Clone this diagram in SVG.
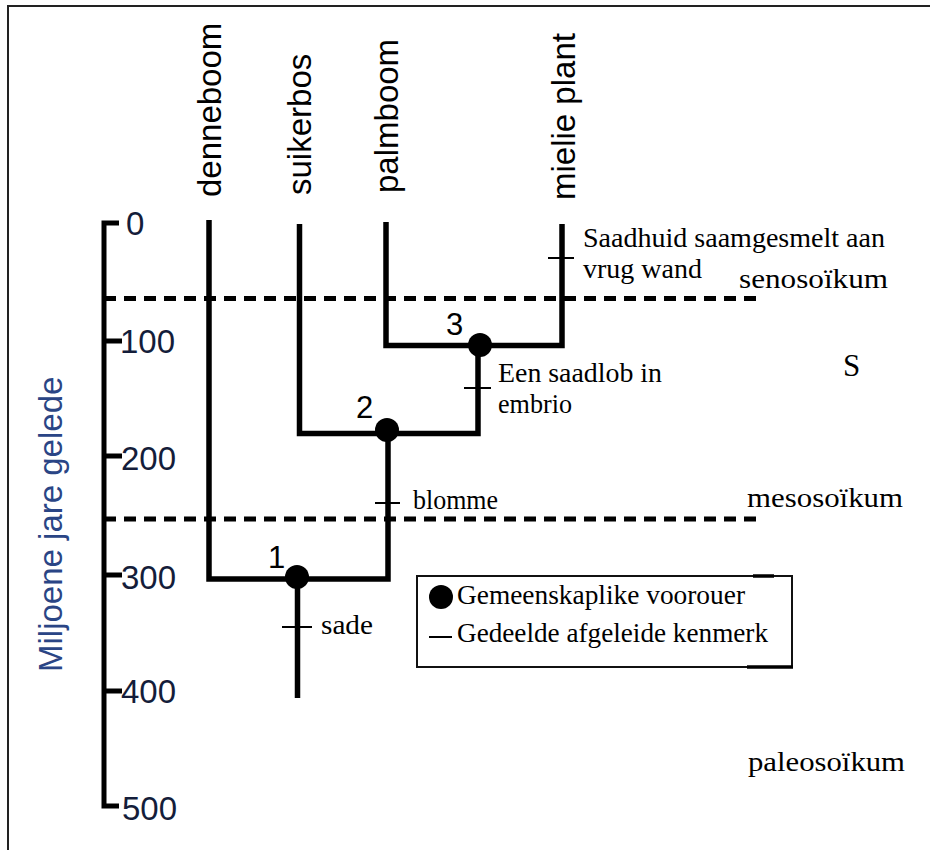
<svg xmlns="http://www.w3.org/2000/svg" width="930" height="850" viewBox="0 0 930 850">
<style>
.frame{fill:none;stroke:#222;stroke-width:2}
.branch{fill:none;stroke:#000;stroke-width:5.5;stroke-linejoin:miter;stroke-linecap:butt}
.axis{fill:none;stroke:#000;stroke-width:5}
.tick{stroke:#000;stroke-width:2}
.era{fill:none;stroke:#000;stroke-width:5;stroke-dasharray:12 8}
.sans{font-family:"Liberation Sans",Arial,sans-serif;font-size:33px;fill:#000}
.num{font-family:"Liberation Sans",Arial,sans-serif;font-size:33px;fill:#141d3a}
.ylab{font-family:"Liberation Sans",Arial,sans-serif;font-size:33px;fill:#2a4585}
.node-num{font-family:"Liberation Sans",Arial,sans-serif;font-size:31px;fill:#000}
.serif{font-family:"Liberation Serif","Times New Roman",serif;font-size:28px;fill:#000}
.dot{fill:#000}
</style>
<rect width="930" height="850" fill="#fff"/>
<path class="frame" d="M8 850 V6 H930"/>

<g id="axis">
<path class="axis" d="M119 223 H104 V806 H119"/>
<path class="axis" d="M104 341 H122 M104 456 H122 M104 575 H122 M104 691 H122"/>
<text class="num" x="126" y="235">0</text>
<text class="num" x="120" y="353">100</text>
<text class="num" x="121" y="470">200</text>
<text class="num" x="121" y="589">300</text>
<text class="num" x="121" y="703">400</text>
<text class="num" x="122" y="820">500</text>
<text class="ylab" transform="translate(62,672) rotate(-90)">Miljoene jare gelede</text>
</g>

<g id="eras">
<line class="era" x1="104" y1="298.5" x2="758" y2="298.5"/>
<line class="era" x1="104" y1="519" x2="758" y2="519"/>
<text class="serif" x="739" y="288" textLength="149" lengthAdjust="spacingAndGlyphs">senosoïkum</text>
<text class="serif" x="843" y="376" style="font-size:31px">S</text>
<text class="serif" x="747" y="507" textLength="156" lengthAdjust="spacingAndGlyphs">mesosoïkum</text>
<text class="serif" x="748" y="771" textLength="157" lengthAdjust="spacingAndGlyphs">paleosoïkum</text>
</g>

<g id="connectors">
<path class="branch" d="M209 220 V579 H388 V430"/>
<path class="branch" d="M299.5 224 V433.5 H478 V345"/>
<path class="branch" d="M386 222 V345.5 H562 V224"/>
<path class="branch" d="M297.5 577 V698"/>
</g>

<g id="tip-denneboom"><text class="sans" transform="translate(221,197) rotate(-90)">denneboom</text></g>
<g id="tip-suikerbos"><text class="sans" transform="translate(311,195) rotate(-90)">suikerbos</text></g>
<g id="tip-palmboom"><text class="sans" transform="translate(398,193) rotate(-90)">palmboom</text></g>
<g id="tip-mielie"><text class="sans" transform="translate(575,200) rotate(-90)">mielie plant</text></g>

<g id="node1">
<circle class="dot" cx="297" cy="577" r="12"/>
<text class="node-num" x="268" y="568">1</text>
</g>
<g id="node2">
<circle class="dot" cx="387" cy="430" r="12"/>
<text class="node-num" x="356" y="418">2</text>
</g>
<g id="node3">
<circle class="dot" cx="480" cy="345" r="12"/>
<text class="node-num" x="446" y="335">3</text>
</g>

<g id="trait-saadhuid">
<line class="tick" x1="548" y1="258" x2="574" y2="258"/>
<text class="serif" x="583" y="247" textLength="302" lengthAdjust="spacingAndGlyphs">Saadhuid saamgesmelt aan</text>
<text class="serif" x="583" y="278" textLength="119" lengthAdjust="spacingAndGlyphs">vrug wand</text>
</g>
<g id="trait-saadlob">
<line class="tick" x1="464" y1="388" x2="491" y2="388"/>
<text class="serif" x="498" y="382" textLength="164" lengthAdjust="spacingAndGlyphs">Een saadlob in</text>
<text class="serif" x="498" y="413" textLength="74" lengthAdjust="spacingAndGlyphs">embrio</text>
</g>
<g id="trait-blomme">
<line class="tick" x1="375" y1="503" x2="400" y2="503"/>
<text class="serif" x="413" y="509" textLength="85" lengthAdjust="spacingAndGlyphs">blomme</text>
</g>
<g id="trait-sade">
<line class="tick" x1="282" y1="627" x2="312" y2="627"/>
<text class="serif" x="321" y="634" textLength="52" lengthAdjust="spacingAndGlyphs">sade</text>
</g>

<g id="legend">
<rect x="417" y="576" width="375" height="91" fill="none" stroke="#111" stroke-width="2"/>
<line x1="753" y1="576" x2="774" y2="576" stroke="#000" stroke-width="3.5"/>
<line x1="747" y1="667" x2="793" y2="667" stroke="#000" stroke-width="3.5"/>
<circle class="dot" cx="441" cy="597" r="12"/>
<text class="serif" x="457" y="604" textLength="288" lengthAdjust="spacingAndGlyphs">Gemeenskaplike voorouer</text>
<line class="tick" x1="429" y1="637" x2="452" y2="637"/>
<text class="serif" x="457" y="642" textLength="311" lengthAdjust="spacingAndGlyphs">Gedeelde afgeleide kenmerk</text>
</g>
</svg>
